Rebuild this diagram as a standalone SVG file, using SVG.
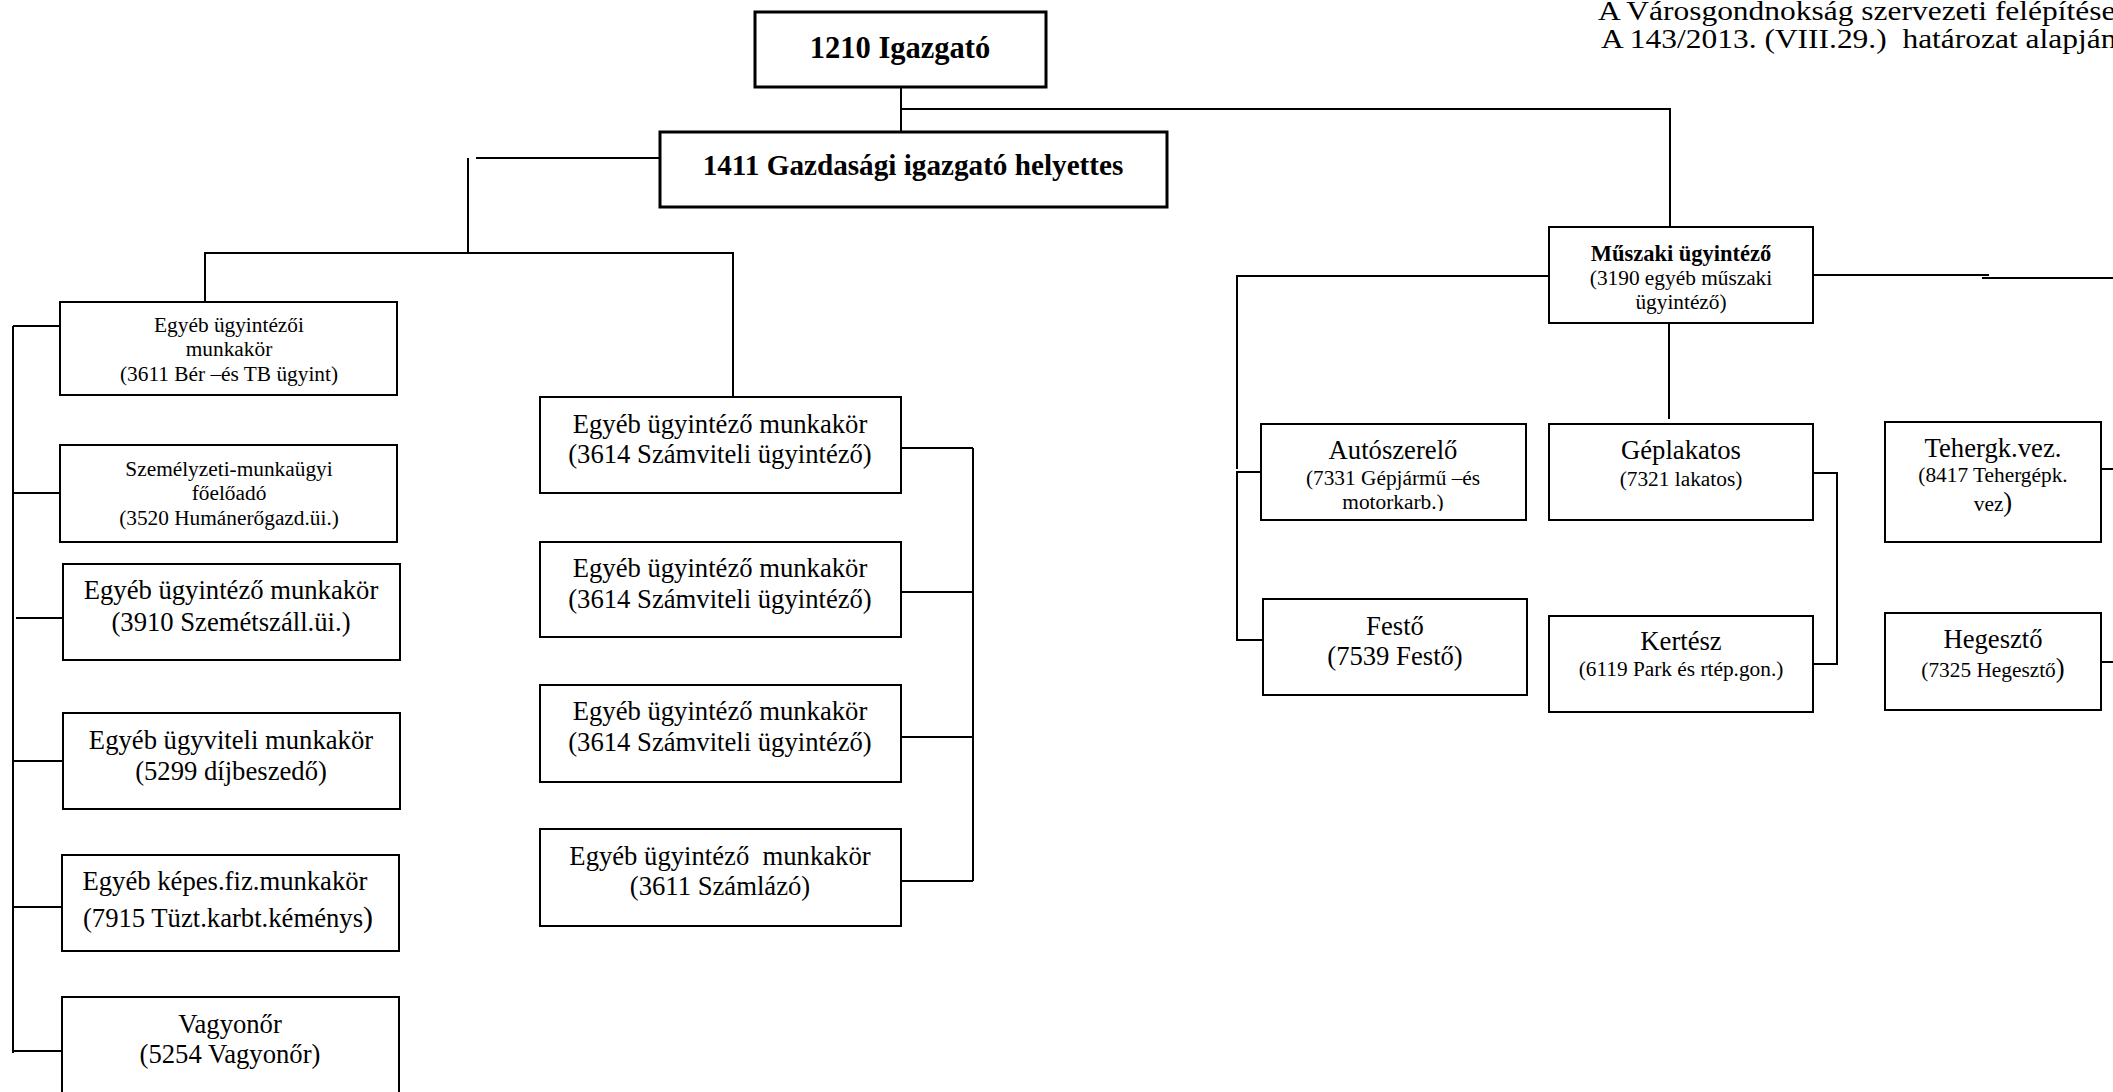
<svg xmlns="http://www.w3.org/2000/svg" width="2113" height="1092" viewBox="0 0 2113 1092">
<style>
text{font-family:"Liberation Serif","Times New Roman",serif;fill:#000;text-anchor:middle}
.box{fill:#fff;stroke:#000;stroke-width:2}
.big{stroke-width:3}
.l{font-size:26.67px}
.s{font-size:21.33px}
.b{font-weight:bold}
.hd{text-anchor:start;font-size:26.67px}
#connectors line,#connectors path{stroke:#000;stroke-width:2;fill:none}
</style>
<defs>
<clipPath id="clipAuto"><rect x="1261" y="424" width="265" height="87"/></clipPath>
</defs>
<rect width="2113" height="1092" fill="#fff"/>

<g id="title">
<text class="hd" transform="translate(1598 20) scale(1.18 1)">A Városgondnokság szervezeti felépítése</text>
<text class="hd" transform="translate(1601 48) scale(1.18 1)" xml:space="preserve">A 143/2013. (VIII.29.)  határozat alapján</text>
</g>

<g id="connectors">
<line x1="901" y1="87" x2="901" y2="132"/>
<path d="M901 109H1670V228"/>
<line x1="476" y1="158" x2="660" y2="158"/>
<line x1="468" y1="158" x2="468" y2="253"/>
<path d="M205 302V253H733V397"/>
<line x1="13" y1="326" x2="13" y2="1053"/>
<line x1="13" y1="326" x2="60" y2="326"/>
<line x1="13" y1="493" x2="60" y2="493"/>
<line x1="16" y1="618" x2="63" y2="618"/>
<line x1="13" y1="761" x2="63" y2="761"/>
<line x1="13" y1="907" x2="62" y2="907"/>
<line x1="13" y1="1051" x2="62" y2="1051"/>
<line x1="973" y1="448" x2="973" y2="881"/>
<line x1="901" y1="448" x2="973" y2="448"/>
<line x1="901" y1="592" x2="973" y2="592"/>
<line x1="901" y1="737" x2="973" y2="737"/>
<line x1="901" y1="881" x2="973" y2="881"/>
<path d="M1549 276H1237V469"/>
<path d="M1261 472H1237V640H1263"/>
<line x1="1669" y1="323" x2="1669" y2="419"/>
<line x1="1813" y1="275" x2="1989" y2="275"/>
<line x1="1982" y1="278" x2="2113" y2="278"/>
<path d="M1813 473H1837V664H1813"/>
<line x1="2101" y1="469" x2="2113" y2="469"/>
<line x1="2101" y1="662" x2="2113" y2="662"/>
</g>

<g id="igazgato">
<rect class="box big" x="755" y="12" width="291" height="75"/>
<text class="b" x="900" y="58" style="font-size:30.5px">1210 Igazgató</text>
</g>
<g id="gazdasagi">
<rect class="box big" x="660" y="132" width="507" height="75"/>
<text class="b" x="913" y="175" style="font-size:29.2px">1411 Gazdasági igazgató helyettes</text>
</g>

<g id="b1">
<rect class="box" x="60" y="302" width="337" height="93"/>
<text class="s" x="229" y="332">Egyéb ügyintézői</text>
<text class="s" x="229" y="356">munkakör</text>
<text class="s" x="229" y="381">(3611 Bér –és TB ügyint)</text>
</g>
<g id="b2">
<rect class="box" x="60" y="445" width="337" height="97"/>
<text class="s" x="229" y="476">Személyzeti-munkaügyi</text>
<text class="s" x="229" y="500">főelőadó</text>
<text class="s" x="229" y="525">(3520 Humánerőgazd.üi.)</text>
</g>
<g id="b3">
<rect class="box" x="63" y="564" width="337" height="96"/>
<text class="l" x="231" y="599">Egyéb ügyintéző munkakör</text>
<text class="l" x="231" y="631">(3910 Szemétszáll.üi.)</text>
</g>
<g id="b4">
<rect class="box" x="63" y="713" width="337" height="96"/>
<text class="l" x="231" y="749">Egyéb ügyviteli munkakör</text>
<text class="l" x="231" y="780">(5299 díjbeszedő)</text>
</g>
<g id="b5">
<rect class="box" x="62" y="855" width="337" height="96"/>
<text class="l" x="225" y="890">Egyéb képes.fiz.munkakör</text>
<text class="l" x="228" y="927">(7915 Tüzt.karbt.kéménys<tspan style="font-size:30px">)</tspan></text>
</g>
<g id="b6">
<rect class="box" x="62" y="997" width="337" height="110"/>
<text class="l" x="230" y="1033">Vagyonőr</text>
<text class="l" x="230" y="1063">(5254 Vagyonőr)</text>
</g>

<g id="s1">
<rect class="box" x="540" y="397" width="361" height="96"/>
<text class="l" x="720" y="433">Egyéb ügyintéző munkakör</text>
<text class="l" x="720" y="463">(3614 Számviteli ügyintéző)</text>
</g>
<g id="s2">
<rect class="box" x="540" y="542" width="361" height="95"/>
<text class="l" x="720" y="577">Egyéb ügyintéző munkakör</text>
<text class="l" x="720" y="608">(3614 Számviteli ügyintéző)</text>
</g>
<g id="s3">
<rect class="box" x="540" y="685" width="361" height="97"/>
<text class="l" x="720" y="720">Egyéb ügyintéző munkakör</text>
<text class="l" x="720" y="751">(3614 Számviteli ügyintéző)</text>
</g>
<g id="s4">
<rect class="box" x="540" y="829" width="361" height="97"/>
<text class="l" x="720" y="865" xml:space="preserve">Egyéb ügyintéző  munkakör</text>
<text class="l" x="720" y="895">(3611 Számlázó)</text>
</g>

<g id="muszaki">
<rect class="box" x="1549" y="227" width="264" height="96"/>
<text class="b" x="1681" y="261" style="font-size:22.5px">Műszaki ügyintéző</text>
<text class="s" x="1681" y="285">(3190 egyéb műszaki</text>
<text class="s" x="1681" y="309">ügyintéző)</text>
</g>
<g id="auto">
<rect class="box" x="1261" y="424" width="265" height="96"/>
<text class="l" x="1393" y="459">Autószerelő</text>
<g clip-path="url(#clipAuto)">
<text class="s" x="1393" y="485">(7331 Gépjármű –és</text>
<text class="s" x="1393" y="509">motorkarb.)</text>
</g>
</g>
<g id="festo">
<rect class="box" x="1263" y="599" width="264" height="96"/>
<text class="l" x="1395" y="635">Festő</text>
<text class="l" x="1395" y="665">(7539 Festő)</text>
</g>
<g id="geplakatos">
<rect class="box" x="1549" y="424" width="264" height="96"/>
<text class="l" x="1681" y="459">Géplakatos</text>
<text class="s" x="1681" y="486">(7321 lakatos)</text>
</g>
<g id="kertesz">
<rect class="box" x="1549" y="616" width="264" height="96"/>
<text class="l" x="1681" y="650">Kertész</text>
<text class="s" x="1681" y="676">(6119 Park és rtép.gon.)</text>
</g>
<g id="tehergk">
<rect class="box" x="1885" y="422" width="216" height="120"/>
<text class="l" x="1993" y="457">Tehergk.vez.</text>
<text class="s" x="1993" y="482">(8417 Tehergépk.</text>
<text class="s" x="1993" y="511">vez<tspan style="font-size:26.67px">)</tspan></text>
</g>
<g id="hegeszto">
<rect class="box" x="1885" y="613" width="216" height="97"/>
<text class="l" x="1993" y="648">Hegesztő</text>
<text class="s" x="1993" y="677">(7325 Hegesztő<tspan style="font-size:26.67px">)</tspan></text>
</g>
</svg>
